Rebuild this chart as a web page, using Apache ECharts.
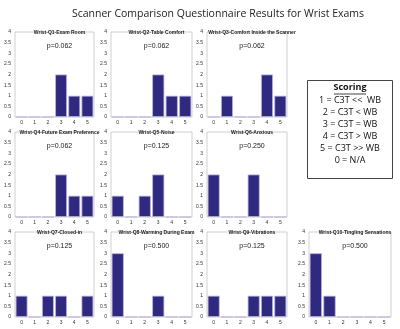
<!DOCTYPE html>
<html><head><meta charset="utf-8">
<script src="https://cdn.jsdelivr.net/npm/echarts@6/dist/echarts.min.js"></script>
<style>html,body{margin:0;padding:0;background:#fff}#c{width:400px;height:329px}</style>
</head><body><div id="c"></div>
<script>
const categories = ['0','1','2','3','4','5'];
const yTicks = [0,0.5,1,1.5,2,2.5,3,3.5,4];
const titles = ['Wrist-Q1-Exam Room','Wrist-Q2-Table Comfort','Wrist-Q3-Comfort Inside the Scanner',
  'Wrist-Q4-Future Exam Preference','Wrist-Q5-Noise','Wrist-Q6-Anxious',
  'Wrist-Q7-Closed-in','Wrist-Q8-Warming During Exam','Wrist-Q9-Vibrations','Wrist-Q10-Tingling Sensations'];
const pValues = ['p=0.062','p=0.062','p=0.062','p=0.062','p=0.125','p=0.250','p=0.125','p=0.500','p=0.125','p=0.500'];
const q1 = [0,0,0,2,1,1];
const q2 = [0,0,0,2,1,1];
const q3 = [0,1,0,0,2,1];
const q4 = [0,0,0,2,1,1];
const q5 = [1,0,1,2,0,0];
const q6 = [2,0,0,2,0,0];
const q7 = [1,0,1,1,0,1];
const q8 = [3,0,0,1,0,0];
const q9 = [1,0,0,1,1,1];
const q10 = [3,1,0,0,0,0];
const seriesData = [q1,q2,q3,q4,q5,q6,q7,q8,q9,q10];
const scoringLines = ['1 = C3T <<  WB','2 = C3T < WB','3 = C3T = WB','4 = C3T > WB','5 = C3T >> WB','0 = N/A'];

const cols = [[15,94],[111,192],[207,287],[309,391]];
const rows = [[32,117],[132,217],[232,317]];
const slots = [[0,0],[0,1],[0,2],[1,0],[1,1],[1,2],[2,0],[2,1],[2,2],[2,3]];

const grid=[],xAxis=[],yAxis=[],series=[],title=[];
title.push({text:'Scanner Comparison Questionnaire Results for Wrist Exams',left:213,top:4,textAlign:'center',
  textStyle:{fontFamily:'Open Sans',fontSize:10.5,fontWeight:'normal',color:'#222'}});
slots.forEach(([r,c],i)=>{
  const [x0,x1]=cols[c],[y0,y1]=rows[r];
  grid.push({left:x0,top:y0,width:x1-x0,height:y1-y0,show:true,borderColor:'#d0d0d0',borderWidth:1,backgroundColor:'#fff'});
  xAxis.push({type:'category',gridIndex:i,data:categories,axisLine:{show:false},axisTick:{show:false},
    axisLabel:{fontSize:5,color:'#333',margin:3,interval:0,fontFamily:'Liberation Sans'},splitLine:{show:false}});
  yAxis.push({type:'value',gridIndex:i,min:0,max:4,interval:0.5,axisLine:{show:false},axisTick:{show:false},
    axisLabel:{fontSize:5,color:'#333',margin:4,fontFamily:'Liberation Sans'},splitLine:{show:false}});
  series.push({type:'bar',xAxisIndex:i,yAxisIndex:i,data:seriesData[i],barCategoryGap:'10%',
    itemStyle:{color:'#2f2a80',borderColor:'#bdb8dc',borderWidth:0.8},silent:true,animation:false});
  const cx=(x0+x1)/2;
  title.push({text:titles[i],left:cx,top:y0-7,textAlign:'center',
    textStyle:{fontFamily:'Liberation Sans',fontSize:5,fontWeight:'bold',color:'#222'}});
  title.push({text:pValues[i],left:cx,top:y0+6,textAlign:'center',
    textStyle:{fontFamily:'Liberation Sans',fontSize:7,fontWeight:'normal',color:'#222'}});
});
const graphic=[{type:'rect',shape:{x:307.5,y:80.5,width:85,height:98},style:{fill:'#fff',stroke:'#444',lineWidth:1}},
  {type:'text',x:350,y:83,style:{text:'Scoring',fontFamily:'Open Sans',fontSize:9,fontWeight:'bold',fill:'#111',textAlign:'center'}},
  {type:'line',shape:{x1:334,y1:94,x2:366,y2:94},style:{stroke:'#111',lineWidth:0.8}}];
scoringLines.forEach((t,k)=>graphic.push({type:'text',x:350,y:96+k*12,style:{text:t,fontFamily:'Open Sans',fontSize:9,fill:'#111',textAlign:'center'}}));
const chart=echarts.init(document.getElementById('c'));
chart.setOption({animation:false,title,grid,xAxis,yAxis,series,graphic});
</script></body></html>
